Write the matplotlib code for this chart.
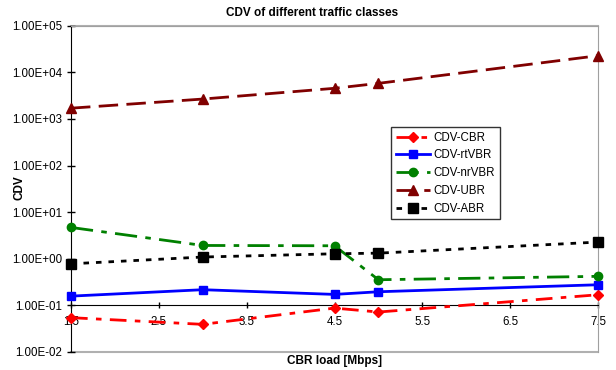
import matplotlib
matplotlib.use("Agg")
import matplotlib.pyplot as plt
from matplotlib.ticker import FixedLocator, FuncFormatter

plt.rcParams['font.family'] = ['Liberation Sans', 'DejaVu Sans']

load = [1.5, 3.0, 4.5, 5.0, 7.5]
cdv_cbr = [0.0545, 0.0392, 0.0875, 0.072, 0.169]
cdv_rtvbr = [0.158, 0.217, 0.172, 0.196, 0.277]
cdv_nrvbr = [4.7, 1.93, 1.9, 0.355, 0.42]
cdv_ubr = [1700, 2670, 4540, 5800, 22700]
cdv_abr = [0.78, 1.09, 1.28, 1.32, 2.28]

x_ticks = [1.5, 2.5, 3.5, 4.5, 5.5, 6.5, 7.5]
y_ticks = [1e-2, 1e-1, 1e0, 1e1, 1e2, 1e3, 1e4, 1e5]

W, H = 616, 370
fig = plt.figure(figsize=(W / 100, H / 100), dpi=100)
ax = fig.add_axes([71 / W, 1 - 352 / H, 527 / W, (352 - 25.7) / H])

series = [
    ("CDV-CBR", cdv_cbr, "#ff0000", (0, (6, 3, 2, 3)), "D", 5),
    ("CDV-rtVBR", cdv_rtvbr, "#0000ff", "-", "s", 6),
    ("CDV-nrVBR", cdv_nrvbr, "#008000", (0, (8, 3, 2, 3)), "o", 6),
    ("CDV-UBR", cdv_ubr, "#800000", (0, (7, 3)), "^", 7),
    ("CDV-ABR", cdv_abr, "#000000", (0, (2, 2.5)), "s", 7),
]
for name, vals, col, ls, mk, ms in series:
    ax.plot(load, vals, color=col, linestyle=ls, linewidth=2, marker=mk,
            markersize=ms, markeredgecolor=col, markerfacecolor=col, label=name,
            clip_on=False, zorder=3)

ax.set_yscale('log')
ax.set_ylim(1e-2, 1e5)
ax.set_xlim(1.5, 7.5)
ax.yaxis.set_major_locator(FixedLocator(y_ticks))
ax.yaxis.set_minor_locator(FixedLocator([]))
ax.yaxis.set_major_formatter(FuncFormatter(lambda v, p: f"{v:.2E}"))
ax.xaxis.set_major_locator(FixedLocator(x_ticks))
ax.xaxis.set_major_formatter(FuncFormatter(lambda v, p: f"{v:g}"))

ax.spines['bottom'].set_position(('data', 0.1))
ax.spines['bottom'].set_color('black')
ax.spines['left'].set_color('black')
ax.spines['top'].set_color('#a0a0a0')
ax.spines['right'].set_color('#a0a0a0')
ax.axhline(1e-2, color='#b0b0b0', linewidth=1.5, zorder=1, clip_on=False)
ax.axhline(1e5, color='#b0b0b0', linewidth=1.5, zorder=1, clip_on=False)

ax.tick_params(axis='both', direction='inout', length=6, width=1, labelsize=8.3, colors='black')
ax.tick_params(axis='x', pad=5, length=5)

fig.text(312 / W, 1 - 12.5 / H, "CDV of different traffic classes", fontsize=8.5,
         fontweight='bold', ha='center', va='center')
fig.text(20 / W, 1 - 188 / H, "CDV", fontsize=8.5, fontweight='bold', rotation=90,
         ha='center', va='center')
fig.text(335 / W, 1 - 361 / H, "CBR load [Mbps]", fontsize=8.5, fontweight='bold',
         ha='center', va='center')

leg = ax.legend(loc='upper left', bbox_to_anchor=((391 - 71) / 527, (352 - 127) / 326.3),
                borderaxespad=0, fontsize=8.3, frameon=True, fancybox=False, edgecolor='black',
                handlelength=3.0, handletextpad=0.3, labelspacing=0.5, borderpad=0.4)
leg.get_frame().set_linewidth(1)

fig.savefig("out.png", dpi=100)
